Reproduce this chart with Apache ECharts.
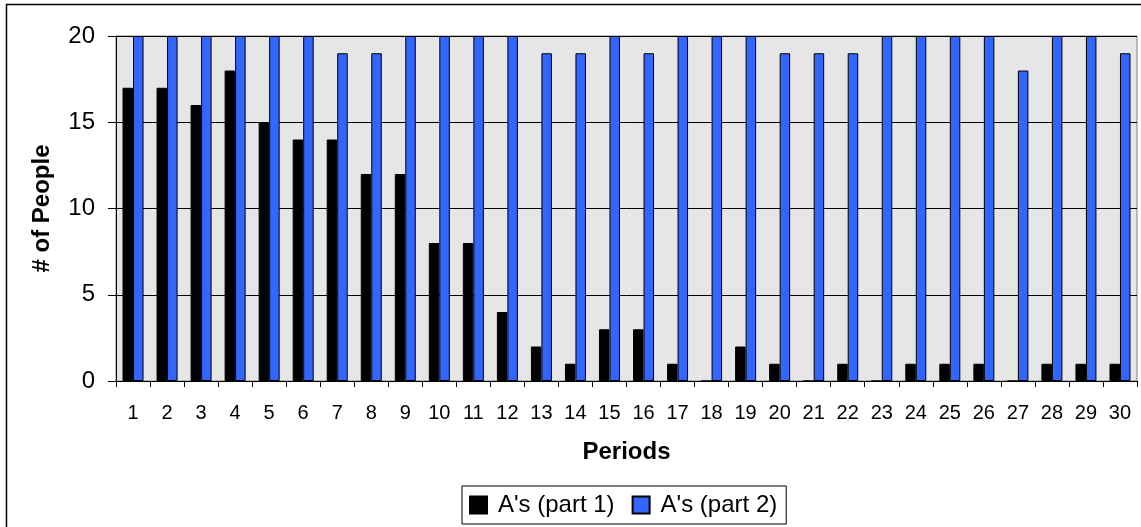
<!DOCTYPE html>
<html>
<head>
<meta charset="utf-8">
<script src="https://cdn.jsdelivr.net/npm/echarts@6/dist/echarts.min.js"></script>
<style>
  html, body { margin: 0; padding: 0; background: #fff; }
  #chart { width: 1141px; height: 527px; }
</style>
</head>
<body>
<div id="chart"></div>
<script>
const periods = ['1', '2', '3', '4', '5', '6', '7', '8', '9', '10', '11', '12', '13', '14', '15',
  '16', '17', '18', '19', '20', '21', '22', '23', '24', '25', '26', '27', '28', '29', '30'];
const part1 = [17, 17, 16, 18, 15, 14, 14, 12, 12, 8, 8, 4, 2, 1, 3, 3, 1, 0, 2, 1, 0, 1, 0, 1, 1, 1, 0, 1, 1, 1];
const part2 = [20, 20, 20, 20, 20, 20, 19, 19, 20, 20, 20, 20, 19, 19, 20, 19, 20, 20, 20, 19, 19, 19, 20, 20, 20, 20, 18, 20, 20, 19];

const FONT = 'Liberation Sans, Arial, sans-serif';

const chart = echarts.init(document.getElementById('chart'));

const option = {
  animation: false,
  backgroundColor: '#fff',
  textStyle: { fontFamily: FONT, color: '#000' },
  // outer chart frame (only top and left edges fall inside the picture)
  graphic: [
    {
      type: 'polyline',
      shape: { points: [[6.5, 530], [6.5, 4.5], [1145, 4.5]] },
      style: { fill: 'none', stroke: '#000', lineWidth: 1.5 },
      silent: true,
    },
  ],
  grid: {
    left: 116,
    top: 36,
    width: 1021,
    height: 345,
    show: true,
    backgroundColor: '#e6e6e6',
    borderColor: '#808080',
    borderWidth: 1,
  },
  legend: {
    bottom: 3,
    left: 462,
    itemWidth: 17,
    itemHeight: 17,
    itemGap: 17,
    padding: [7, 9, 7, 7],
    borderColor: '#000',
    borderWidth: 1,
    borderRadius: 0,
    textStyle: { fontFamily: FONT, fontSize: 24, color: '#000', padding: [0, 0, 0, 6] },
    data: [
      { name: "A's (part 1)", icon: 'rect' },
      { name: "A's (part 2)", icon: 'rect' },
    ],
  },
  xAxis: {
    type: 'category',
    data: periods,
    name: 'Periods',
    nameLocation: 'middle',
    nameGap: 59,
    nameTextStyle: { fontFamily: FONT, fontSize: 24, fontWeight: 'bold', color: '#000' },
    axisLine: { lineStyle: { color: '#000', width: 1 } },
    axisTick: { show: true, length: 6, lineStyle: { color: '#000' }, alignWithLabel: false },
    axisLabel: { fontFamily: FONT, fontSize: 20, color: '#000', margin: 22, interval: 0 },
    splitLine: { show: false },
  },
  yAxis: {
    type: 'value',
    min: 0,
    max: 20,
    interval: 5,
    name: '# of People',
    nameLocation: 'middle',
    nameGap: 62,
    nameTextStyle: { fontFamily: FONT, fontSize: 24, fontWeight: 'bold', color: '#000' },
    axisLine: { show: true, lineStyle: { color: '#000', width: 1 } },
    axisTick: { show: true, length: 8, lineStyle: { color: '#000' } },
    axisLabel: { fontFamily: FONT, fontSize: 24, color: '#000', margin: 21 },
    splitLine: { show: true, lineStyle: { color: '#000', width: 1 } },
  },
  series: [
    {
      name: "A's (part 1)",
      type: 'bar',
      data: part1,
      barWidth: 10.5,
      barGap: '0%',
      itemStyle: { color: '#000', borderColor: '#000', borderWidth: 1 },
    },
    {
      name: "A's (part 2)",
      type: 'bar',
      data: part2,
      barWidth: 10.5,
      barGap: '0%',
      itemStyle: { color: '#3366ff', borderColor: '#000', borderWidth: 1 },
    },
  ],
};

chart.setOption(option);
</script>
</body>
</html>
